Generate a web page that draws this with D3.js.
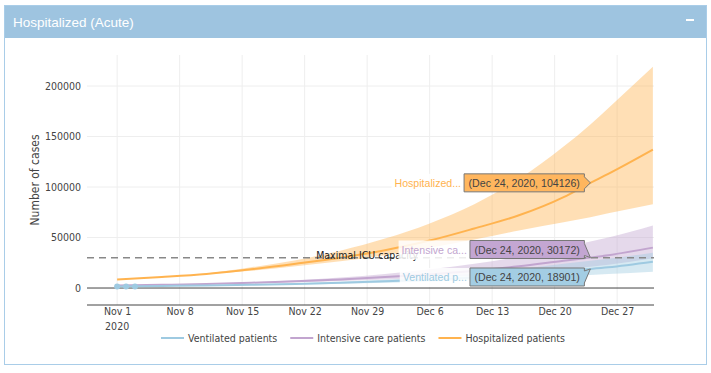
<!DOCTYPE html>
<html>
<head>
<meta charset="utf-8">
<script src="https://cdn.jsdelivr.net/npm/d3@7"></script>
<style>
body{margin:0;background:#fff;}
svg text{font-family:"DejaVu Sans Condensed","DejaVu Sans",sans-serif;font-stretch:condensed;}
.tick text{font-size:10.5px;fill:#444;}
.hover text{font-family:"Liberation Sans",Arial,sans-serif;font-stretch:normal;}
</style>
</head>
<body>
<script>
//chart data
var dates = ["2020-11-01","2020-11-06","2020-11-11","2020-11-16","2020-11-21","2020-11-26","2020-12-01","2020-12-06","2020-12-11","2020-12-16","2020-12-21","2020-12-24","2020-12-26","2020-12-31"];
var hospitalized = [8500, 11000, 14000, 18500, 24000, 30000, 37500, 47000, 59000, 72000, 90000, 104126, 113000, 137000];
var hospUpper = [8500, 11000, 14500, 20500, 27500, 37000, 49000, 64000, 83000, 108000, 140000, 162000, 178000, 219000];
var hospLower = [8500, 11000, 13800, 17000, 21500, 26500, 32500, 40000, 48000, 57000, 65000, 70000, 74000, 83000];
var intensive = [2500, 3200, 4000, 5200, 6700, 8500, 10800, 13500, 17000, 21500, 27000, 30172, 32500, 40000];
var icuUpper = [2500, 3200, 4200, 5800, 7800, 10500, 14000, 18500, 24000, 31000, 40000, 46000, 50000, 62000];
var icuLower = [2500, 3200, 3800, 4700, 5800, 7000, 8500, 10300, 12400, 15000, 18500, 21000, 23000, 29500];
var ventilated = [1500, 2000, 2500, 3200, 4100, 5200, 6600, 8300, 10500, 13300, 16800, 18901, 20500, 26000];
var ventUpper = [1500, 2000, 2600, 3500, 4700, 6200, 8200, 10800, 14200, 18500, 24000, 27000, 29000, 35000];
var ventLower = [1500, 2000, 2400, 2900, 3500, 4300, 5200, 6400, 7800, 9500, 11600, 13000, 13800, 16000];

//observed ventilated points (markers)
var observedDates = ["2020-11-01","2020-11-02","2020-11-03"];
var observedVent = [1500, 1550, 1600];

//ICU capacity line
var icuCapacity = 30000;
var capacityLabel = "Maximal ICU capacity";
var capacityDate = "2020-11-29";

//axes
var xTickDates = ["2020-11-01","2020-11-08","2020-11-15","2020-11-22","2020-11-29","2020-12-06","2020-12-13","2020-12-20","2020-12-27"];
var xTickLabels = ["Nov 1","Nov 8","Nov 15","Nov 22","Nov 29","Dec 6","Dec 13","Dec 20","Dec 27"];
var yTicks = [0, 50000, 100000, 150000, 200000];

//series names and hover
var seriesNames = ["Ventilated patients", "Intensive care patients", "Hospitalized patients"];
var hoverNames = ["Ventilated p...", "Intensive ca...", "Hospitalized..."];
var hoverDate = "2020-12-24";
var hoverDateLabel = "Dec 24, 2020";

window.onload = setChart;

function setChart(){
    var parse = d3.timeParse("%Y-%m-%d");
    var width = 711, height = 373;
    var left = 87, right = 654, top = 55, bottom = 305;

    var svg = d3.select("body").append("svg")
        .attr("width", width)
        .attr("height", height);

    //panel frame and header
    svg.append("rect")
        .attr("x", 4.5).attr("y", 5.5)
        .attr("width", 702).attr("height", 359)
        .attr("fill", "#fff")
        .attr("stroke", "#a9cde8");
    svg.append("rect")
        .attr("x", 5).attr("y", 6)
        .attr("width", 701).attr("height", 32)
        .attr("fill", "#9ec4e0");
    svg.append("text")
        .attr("x", 13).attr("y", 27)
        .style("font-family", "'Liberation Sans', Arial, sans-serif")
        .style("font-stretch", "normal")
        .style("font-size", "13.5px")
        .attr("fill", "#fff")
        .text("Hospitalized (Acute)");
    svg.append("rect")
        .attr("x", 686).attr("y", 19)
        .attr("width", 8).attr("height", 2)
        .attr("fill", "#fff");

    //scales
    var x = d3.scaleTime()
        .domain([new Date(2020, 9, 28, 15), new Date(2020, 11, 31, 3)])
        .range([left, right]);
    var y = d3.scaleLinear()
        .domain([-16800, 230700])
        .range([bottom, top]);

    //grid
    var grid = svg.append("g");
    grid.selectAll(".vgrid")
        .data(xTickDates)
        .enter().append("line")
        .attr("x1", function(d){ return x(parse(d)); })
        .attr("x2", function(d){ return x(parse(d)); })
        .attr("y1", top).attr("y2", bottom)
        .attr("stroke", "#eee");
    grid.selectAll(".hgrid")
        .data(yTicks.slice(1))
        .enter().append("line")
        .attr("x1", left).attr("x2", right)
        .attr("y1", function(d){ return y(d); })
        .attr("y2", function(d){ return y(d); })
        .attr("stroke", "#eee");

    //build rows
    var rows = dates.map(function(d, i){
        return {
            date: parse(d),
            hosp: hospitalized[i], hospU: hospUpper[i], hospL: hospLower[i],
            icu: intensive[i], icuU: icuUpper[i], icuL: icuLower[i],
            vent: ventilated[i], ventU: ventUpper[i], ventL: ventLower[i]
        };
    });

    var series = [
        {key: "vent", color: "#9ecae1", box: "#a3cde3"},
        {key: "icu", color: "#c2a5cf", box: "#c3a6d2"},
        {key: "hosp", color: "#ffb34f", box: "#ffb65e"}
    ];

    //bands
    series.slice().reverse().forEach(function(s){
        var area = d3.area()
            .curve(d3.curveMonotoneX)
            .x(function(d){ return x(d.date); })
            .y0(function(d){ return y(d[s.key + "L"]); })
            .y1(function(d){ return y(d[s.key + "U"]); });
        svg.append("path")
            .datum(rows)
            .attr("d", area)
            .attr("fill", s.color)
            .attr("opacity", 0.42);
    });

    //zero line and axis line
    svg.append("line")
        .attr("x1", left).attr("x2", right)
        .attr("y1", y(0)).attr("y2", y(0))
        .attr("stroke", "#444");
    svg.append("line")
        .attr("x1", left).attr("x2", right)
        .attr("y1", bottom).attr("y2", bottom)
        .attr("stroke", "#444");

    //lines
    series.slice().reverse().forEach(function(s){
        var line = d3.line()
            .curve(d3.curveMonotoneX)
            .x(function(d){ return x(d.date); })
            .y(function(d){ return y(d[s.key]); });
        svg.append("path")
            .datum(rows)
            .attr("d", line)
            .attr("fill", "none")
            .attr("stroke", s.color)
            .attr("stroke-width", 2);
    });

    //observed markers
    svg.selectAll(".obs")
        .data(observedDates)
        .enter().append("circle")
        .attr("cx", function(d){ return x(parse(d)); })
        .attr("cy", function(d, i){ return y(observedVent[i]); })
        .attr("r", 3)
        .attr("fill", "#9ecae1");

    //capacity line
    svg.append("line")
        .attr("x1", left).attr("x2", right)
        .attr("y1", y(icuCapacity)).attr("y2", y(icuCapacity))
        .attr("stroke", "#888")
        .attr("stroke-width", 1.5)
        .attr("stroke-dasharray", "7,5");
    svg.append("text")
        .attr("x", x(parse(capacityDate)))
        .attr("y", y(icuCapacity) + 1)
        .attr("text-anchor", "middle")
        .style("font-size", "10.5px")
        .attr("fill", "#222")
        .text(capacityLabel);

    //axes
    var xAxis = d3.axisBottom(x)
        .tickValues(xTickDates.map(parse))
        .tickSize(0)
        .tickPadding(3)
        .tickFormat(function(d, i){ return xTickLabels[i]; });
    var gx = svg.append("g")
        .attr("class", "axis")
        .attr("transform", "translate(0," + bottom + ")")
        .call(xAxis);
    gx.select(".domain").remove();
    gx.append("text")
        .attr("x", x(parse(xTickDates[0])))
        .attr("y", 25)
        .attr("text-anchor", "middle")
        .attr("fill", "#444")
        .style("font-size", "10.5px")
        .text("2020");

    var yAxis = d3.axisLeft(y)
        .tickValues(yTicks)
        .tickSize(0)
        .tickPadding(6)
        .tickFormat(d3.format("d"));
    var gy = svg.append("g")
        .attr("class", "axis")
        .attr("transform", "translate(" + left + ",0)")
        .call(yAxis);
    gy.select(".domain").remove();

    svg.append("text")
        .attr("transform", "translate(39," + ((top + bottom) / 2) + ") rotate(-90)")
        .attr("text-anchor", "middle")
        .style("font-size", "12px")
        .attr("fill", "#444")
        .text("Number of cases");

    //hover labels at the hover date
    var hDate = parse(hoverDate);
    var hIndex = dates.indexOf(hoverDate);
    var px = x(hDate);
    var boxH = 18, gapH = 27.5;
    var pts = series.map(function(s, i){
        return {s: s, name: hoverNames[i], value: rows[hIndex][s.key], py: y(rows[hIndex][s.key])};
    });
    pts.forEach(function(p){ p.cy = p.py; });
    //push the two lower labels apart
    var mid = (pts[0].py + pts[1].py) / 2;
    pts[1].cy = mid - gapH / 2;
    pts[0].cy = mid + gapH / 2;

    var hover = svg.append("g").attr("class", "hover");
    pts.forEach(function(p){
        var g = hover.append("g").attr("transform", "translate(" + px + "," + p.py + ")");
        var label = g.append("text")
            .style("font-size", "10.6px")
            .attr("fill", "#444")
            .attr("text-anchor", "end")
            .text("(" + hoverDateLabel + ", " + p.value + ")");
        var tw = label.node().getComputedTextLength();
        var w = tw + 9, dy = p.cy - p.py;
        var path = "M0,0L-6," + (dy + 6) +
            "V" + (dy + boxH / 2) +
            "H" + (-6 - w) +
            "V" + (dy - boxH / 2) +
            "H-6V" + (dy - 6) + "Z";
        g.insert("path", "text")
            .attr("d", path)
            .attr("fill", p.s.box)
            .attr("stroke", "#777");
        label.attr("x", -10.5).attr("y", dy + 4);

        var nameText = g.append("text")
            .style("font-size", "10.6px")
            .attr("fill", p.s.color)
            .attr("text-anchor", "end")
            .attr("x", -6 - w - 3)
            .attr("y", dy + 4)
            .text(p.name);
        var nw = nameText.node().getComputedTextLength();
        g.insert("rect", "path")
            .attr("x", -6 - w - nw - 6)
            .attr("y", dy - boxH / 2)
            .attr("width", nw + 6)
            .attr("height", boxH + 1)
            .attr("fill", "#fff")
            .attr("opacity", 0.85);
    });

    //legend
    var legend = svg.append("g").attr("transform", "translate(0,338)");
    var lx = 161;
    series.forEach(function(s, i){
        legend.append("line")
            .attr("x1", lx).attr("x2", lx + 23)
            .attr("y1", 0).attr("y2", 0)
            .attr("stroke", s.color)
            .attr("stroke-width", 2);
        var t = legend.append("text")
            .attr("x", lx + 27)
            .attr("y", 4)
            .style("font-size", "10.5px")
            .attr("fill", "#444")
            .text(seriesNames[i]);
        lx += 27 + t.node().getComputedTextLength() + 13;
    });
}
</script>
</body>
</html>
